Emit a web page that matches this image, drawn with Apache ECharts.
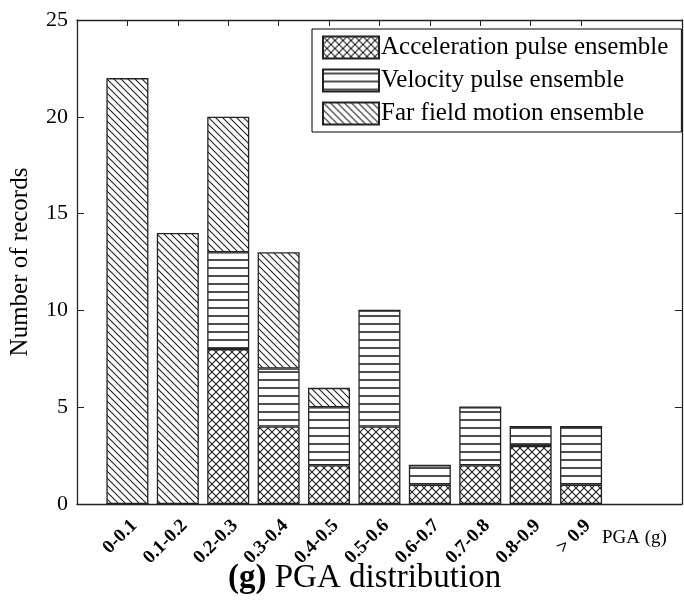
<!DOCTYPE html>
<html>
<head>
<meta charset="utf-8">
<script src="https://cdn.jsdelivr.net/npm/echarts@6/dist/echarts.min.js"></script>
<style>
  html, body { margin: 0; padding: 0; background: #fff; }
  #chart { width: 684px; height: 605px; }
</style>
</head>
<body>
<div id="chart"></div>
<script>
// PGA bins and record counts per ensemble
const categories = ['0-0.1', '0.1-0.2', '0.2-0.3', '0.3-0.4', '0.4-0.5',
                    '0.5-0.6', '0.6-0.7', '0.7-0.8', '0.8-0.9', '> 0.9'];
const accelPulse = [0, 0, 8, 4, 2, 4, 1, 2, 3, 1];
const velocityPulse = [0, 0, 5, 3, 3, 6, 1, 3, 1, 3];
const farField = [22, 14, 7, 6, 1, 0, 0, 0, 0, 0];
const seriesNames = ['Acceleration pulse ensemble', 'Velocity pulse ensemble', 'Far field motion ensemble'];
const yTicks = [0, 5, 10, 15, 20, 25];
const xUnitLabel = 'PGA (g)';

const SERIF = '"Liberation Serif", "Times New Roman", serif';
const INK = '#222';

// Axis slots: an empty slot before the first bin and two after the last
const slots = [''].concat(categories, ['', '']);

// Hatch fills drawn on small tiles
function tile(w, h, draw) {
  const c = document.createElement('canvas');
  c.width = w; c.height = h;
  const g = c.getContext('2d');
  g.fillStyle = '#fff';
  g.fillRect(0, 0, w, h);
  g.strokeStyle = INK;
  g.lineWidth = 1.1;
  draw(g, w, h);
  return { image: c, repeat: 'repeat' };
}
function back(g, s) { // "\" diagonal lines
  g.beginPath();
  g.moveTo(-1, -1); g.lineTo(s + 1, s + 1);
  g.moveTo(-1 - s, -1); g.lineTo(1, s + 1);
  g.moveTo(s - 1, -1); g.lineTo(2 * s + 1, s + 1);
  g.stroke();
}
function fwd(g, s) { // "/" diagonal lines
  g.beginPath();
  g.moveTo(-1, s + 1); g.lineTo(s + 1, -1);
  g.moveTo(-1 - s, s + 1); g.lineTo(1, -1);
  g.moveTo(s - 1, s + 1); g.lineTo(2 * s + 1, -1);
  g.stroke();
}
const crossFill = tile(8, 8, (g, w) => { back(g, w); fwd(g, w); });
const horizFill = tile(8, 8, (g, w) => {
  g.lineWidth = 1.6;
  g.beginPath(); g.moveTo(0, 4); g.lineTo(w, 4); g.stroke();
});
const diagFill = tile(7, 7, (g, w) => { back(g, w); });

const fills = [crossFill, horizFill, diagFill];
const valueSets = [accelPulse, velocityPulse, farField];

const series = valueSets.map((vals, k) => ({
  name: seriesNames[k],
  type: 'bar',
  stack: 'records',
  barWidth: 42,
  xAxisIndex: 0,
  yAxisIndex: 0,
  itemStyle: { color: fills[k], borderColor: INK, borderWidth: 1.3 },
  emphasis: { disabled: true },
  data: vals.map((v, i) => [categories[i], v])
}));

const chart = echarts.init(document.getElementById('chart'), null, { renderer: 'canvas' });
chart.setOption({
  animation: false,
  backgroundColor: '#fff',
  title: {
    text: '{b|(g)} PGA distribution',
    left: 223,
    top: 557,
    textStyle: {
      fontFamily: SERIF, fontSize: 33, fontWeight: 'normal', color: '#000',
      rich: { b: { fontFamily: SERIF, fontSize: 33, fontWeight: 'bold', color: '#000' } }
    }
  },
  legend: {
    orient: 'vertical',
    left: 312,
    top: 29,
    padding: [6, 13, 6, 10],
    itemGap: 8,
    itemWidth: 56,
    itemHeight: 22,
    icon: 'rect',
    borderColor: '#000',
    borderWidth: 1,
    backgroundColor: '#fff',
    selectedMode: false,
    textStyle: { fontFamily: SERIF, fontSize: 25, color: '#000', padding: [0, 0, 0, -3] },
    data: seriesNames
  },
  grid: { left: 74, right: -4, top: 20, bottom: 101, containLabel: false },
  xAxis: [
    {
      type: 'category', data: slots, boundaryGap: false, position: 'bottom',
      name: xUnitLabel,
      nameLocation: 'end',
      nameGap: -80,
      nameTextStyle: { fontFamily: SERIF, fontSize: 19, color: '#000', verticalAlign: 'top', padding: [25, 0, 0, 0] },
      axisLine: { show: true, onZero: false, lineStyle: { color: INK, width: 1.3 } },
      axisTick: { show: false },
      splitLine: { show: false },
      axisLabel: {
        interval: 0,
        rotate: 45,
        margin: 12,
        verticalAlign: 'top',
        fontFamily: SERIF, fontSize: 19, fontWeight: 'bold', color: '#000'
      }
    },
    {
      type: 'category', data: slots, boundaryGap: false, position: 'top',
      axisLine: { show: true, onZero: false, lineStyle: { color: INK, width: 1.3 } },
      axisTick: { show: true, inside: true, length: 6, interval: (idx, val) => val !== '', lineStyle: { color: INK } },
      splitLine: { show: false },
      axisLabel: { show: false }
    }
  ],
  yAxis: [
    {
      type: 'value', min: 0, max: 25, interval: 5, position: 'left',
      name: 'Number of records',
      nameLocation: 'middle',
      nameGap: 44,
      nameTextStyle: { fontFamily: SERIF, fontSize: 25, color: '#000' },
      axisLine: { show: true, onZero: false, lineStyle: { color: INK, width: 1.3 } },
      axisTick: { show: true, inside: true, length: 7, lineStyle: { color: INK } },
      splitLine: { show: false },
      axisLabel: { margin: 9, fontFamily: SERIF, fontSize: 22, color: '#000',
                   formatter: v => (yTicks.indexOf(v) >= 0 ? String(v) : '') }
    },
    {
      type: 'value', min: 0, max: 25, interval: 5, position: 'right',
      axisLine: { show: true, onZero: false, lineStyle: { color: INK, width: 1.3 } },
      axisTick: { show: true, inside: true, length: 7, lineStyle: { color: INK } },
      splitLine: { show: false },
      axisLabel: { show: false }
    }
  ],
  series: series
});
</script>
</body>
</html>
